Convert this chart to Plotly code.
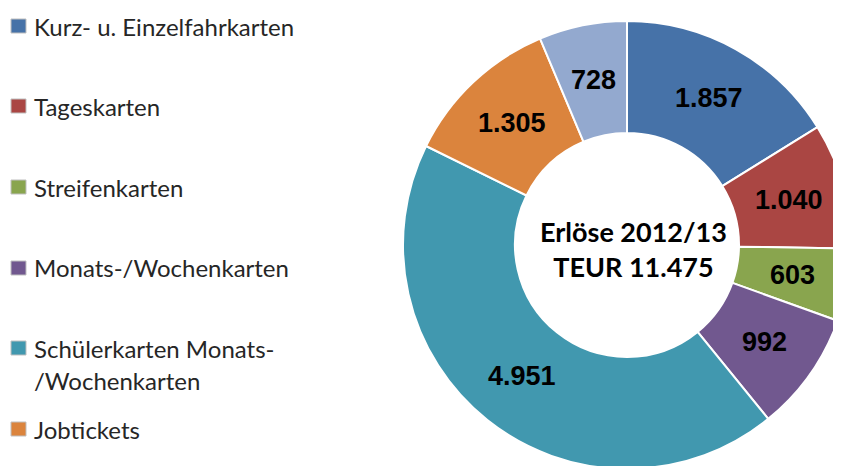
import math
import plotly.graph_objects as go

# Erlöse 2012/13 in TEUR
categories = [
    "Kurz- u. Einzelfahrkarten",
    "Tageskarten",
    "Streifenkarten",
    "Monats-/Wochenkarten",
    "Schülerkarten Monats-\n/Wochenkarten",
    "Jobtickets",
    "Sonstige",
]
values = [1857, 1040, 603, 992, 4951, 1305, 728]
colors = ["#4672A8", "#AA4643", "#89A54E", "#71588F", "#4198AF", "#DB843D", "#93A9CF"]
legend_count = 6  # last category is not shown in the legend
center_title = "Erlöse 2012/13<br>TEUR 11.475"

# the page body adds an 8px margin, so positions are shifted back by that
off = 8
W, H = 855, 475
cx, cy, r = 627 - off, 245 - off, 224
hole = 0.5

fig = go.Figure(go.Pie(
    labels=[c.replace("\n", "") for c in categories],
    values=values,
    sort=False,
    direction="clockwise",
    rotation=0,
    hole=hole,
    marker=dict(colors=colors, line=dict(color="white", width=2)),
    textinfo="none",
    domain=dict(x=[(cx - r) / W, (cx + r) / W], y=[(H - cy - r) / H, (H - cy + r) / H]),
    showlegend=False,
    hoverinfo="label+value",
))

# value labels in the middle of the ring, like the original
total = sum(values)
rm = r * (1 + hole) / 2
acc = 0
for v in values:
    ang = 2 * math.pi * (acc + v / 2) / total
    acc += v
    px = cx + rm * math.sin(ang)
    py = cy - rm * math.cos(ang)
    fig.add_annotation(
        x=px / W, y=(H - py) / H, xref="paper", yref="paper",
        xanchor="center", yanchor="middle", showarrow=False,
        text="<b>" + f"{v:,}".replace(",", ".") + "</b>",
        font=dict(family="Liberation Sans", size=27, color="black"),
    )

# centre text
fig.add_annotation(
    x=(cx + 6) / W, y=(H - (249 - off)) / H, xref="paper", yref="paper",
    xanchor="center", yanchor="middle",
    text="<b>" + center_title + "</b>", showarrow=False,
    font=dict(family="Lato", size=27, color="black"),
)

# hand-made legend with the spacing of the original
row_y = [26, 106, 187, 268, 348, 429]
for i in range(legend_count):
    y = row_y[i] - off
    fig.add_shape(
        type="rect", xref="paper", yref="paper",
        x0=(11 - off) / W, x1=(26 - off) / W, y0=(H - y - 7) / H, y1=(H - y + 7) / H,
        fillcolor=colors[i], line=dict(color="#bfbfbf", width=1),
    )
    for j, line in enumerate(categories[i].split("\n")):
        fig.add_annotation(
            x=(32 - off) / W, y=(H - y - 32 * j) / H, xref="paper", yref="paper",
            xanchor="left", yanchor="middle", text=line, showarrow=False,
            font=dict(family="Lato", size=24, color="#262626"),
        )

fig.update_layout(
    width=W,
    height=H,
    margin=dict(l=0, r=0, t=0, b=0),
    paper_bgcolor="white",
    plot_bgcolor="white",
)

fig.write_html("out.html")
